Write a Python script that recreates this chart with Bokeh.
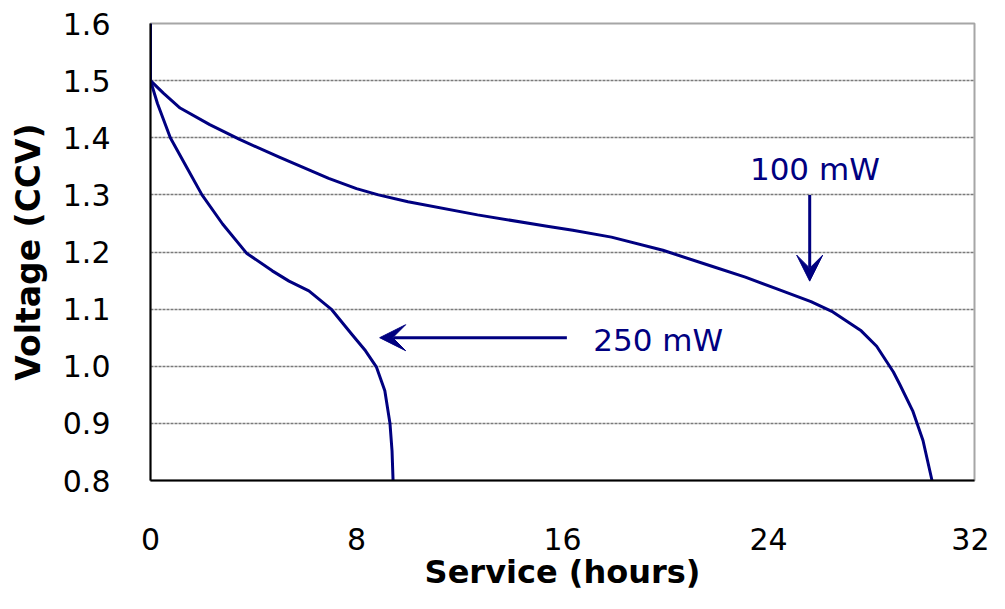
from bokeh.plotting import figure
from bokeh.models import (Range1d, FixedTicker, NumeralTickFormatter, Arrow, VeeHead, Label)
from bokeh.embed import file_html
from bokeh.resources import INLINE

# ---- data ----
hours_100mw = [0.0, 0.0, 0.5, 1.15, 2.3, 3.46, 5.0, 6.92, 8.0, 8.85, 10.0, 12.7, 15.4, 16.4,
               17.9, 19.9, 21.8, 23.1, 24.3, 25.65, 26.5, 27.6, 28.2, 28.85, 29.1, 29.6,
               30.0, 30.35]
volts_100mw = [1.6, 1.5, 1.478, 1.452, 1.423, 1.397, 1.366, 1.329, 1.311, 1.300, 1.288,
               1.265, 1.245, 1.238, 1.226, 1.203, 1.175, 1.156, 1.136, 1.113, 1.095, 1.062,
               1.035, 0.990, 0.968, 0.922, 0.870, 0.8]

hours_250mw = [0.0, 0.27, 0.77, 1.42, 2.0, 2.8, 3.73, 4.73, 5.38, 6.15, 7.04, 7.8, 8.35,
               8.77, 9.1, 9.3, 9.38, 9.42]
volts_250mw = [1.5, 1.46, 1.4, 1.347, 1.3, 1.249, 1.198, 1.167, 1.149, 1.132, 1.099, 1.057,
               1.027, 0.999, 0.957, 0.9, 0.852, 0.8]

x_ticks = [0, 8, 16, 24, 32]
y_ticks = [0.8, 0.9, 1.0, 1.1, 1.2, 1.3, 1.4, 1.5, 1.6]

labels = ["100 mW", "250 mW"]

NAVY = "#000080"
FONT = "DejaVu Sans"

p = figure(width=989, height=593, output_backend="svg", toolbar_location=None,
           x_range=Range1d(0, 32), y_range=Range1d(0.8, 1.6),
           min_border_left=150, min_border_right=15, min_border_top=23,
           min_border_bottom=113)

p.background_fill_color = "white"
p.border_fill_color = "white"
p.outline_line_color = "#a6a6a6"
p.outline_line_width = 2

# axes
for ax in (p.xaxis[0], p.yaxis[0]):
    ax.axis_line_color = "black"
    ax.axis_line_width = 2
    ax.major_tick_line_color = None
    ax.minor_tick_line_color = None
    ax.major_tick_out = 0
    ax.major_tick_in = 0
    ax.minor_tick_out = 0
    ax.major_label_text_font = FONT
    ax.major_label_text_font_size = "30px"
    ax.major_label_text_color = "black"
    ax.axis_label_text_font = FONT
    ax.axis_label_text_font_style = "bold"
    ax.axis_label_text_color = "black"

p.xaxis.ticker = FixedTicker(ticks=x_ticks)
p.yaxis.ticker = FixedTicker(ticks=y_ticks)
p.yaxis.formatter = NumeralTickFormatter(format="0.0")
p.xaxis.axis_label = "Service (hours)"
p.yaxis.axis_label = "Voltage (CCV)"
p.xaxis.axis_label_text_font_size = "32px"
p.yaxis.axis_label_text_font_size = "33px"
p.xaxis.major_label_text_line_height = 1.0
p.xaxis.axis_label_text_line_height = 1.0
p.xaxis.major_label_standoff = 47
p.xaxis.axis_label_standoff = 0
p.yaxis.major_label_standoff = 40
p.yaxis.axis_label_standoff = 12

p.xgrid.grid_line_color = None
p.ygrid.ticker = FixedTicker(ticks=y_ticks)
p.ygrid.grid_line_color = "#7a7a7a"
p.ygrid.grid_line_width = 1.5
p.ygrid.grid_line_dash = "3 1"

# curves
p.line(hours_100mw, volts_100mw, line_color=NAVY, line_width=3, line_join="round")
p.line(hours_250mw, volts_250mw, line_color=NAVY, line_width=3, line_join="round")

# annotations
lab250 = Label(x=17.0, y=1.046, text=labels[1], text_font=FONT, text_font_size="31px",
               text_color=NAVY, text_baseline="middle", text_align="left",
               background_fill_color="white", padding=5)
lab100 = Label(x=25.8, y=1.345, text=labels[0], text_font=FONT, text_font_size="31px",
               text_color=NAVY, text_baseline="middle", text_align="center")
p.add_layout(lab250)
p.add_layout(lab100)

p.add_layout(Arrow(x_start=16.17, y_start=1.050, x_end=8.9, y_end=1.050,
                   line_color=NAVY, line_width=3,
                   end=VeeHead(size=26, fill_color=NAVY, line_color=NAVY, line_width=1)))
p.add_layout(Arrow(x_start=25.6, y_start=1.300, x_end=25.6, y_end=1.149,
                   line_color=NAVY, line_width=3,
                   end=VeeHead(size=26, fill_color=NAVY, line_color=NAVY, line_width=1)))

open("out.html", "w").write(file_html(p, INLINE))
